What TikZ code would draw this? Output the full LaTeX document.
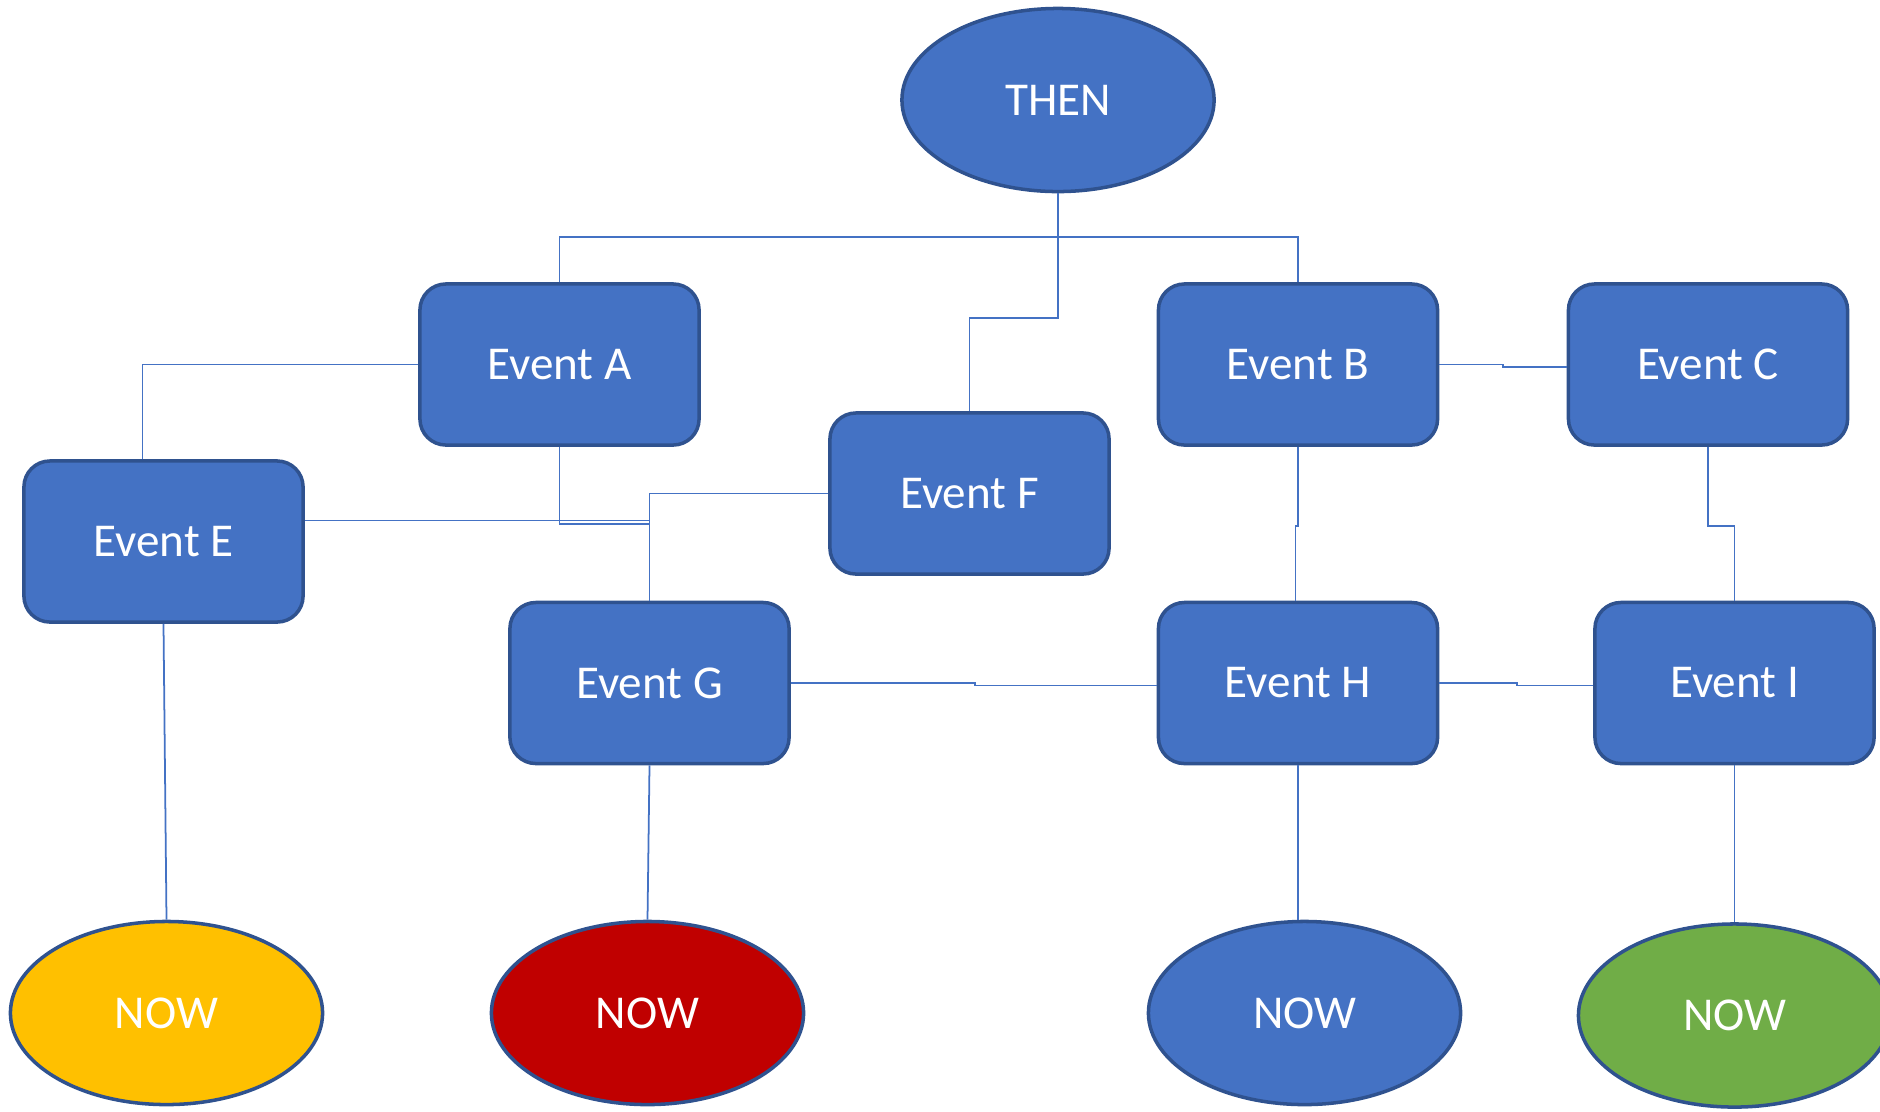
\documentclass[tikz,border=0pt]{standalone}
\usepackage{fontspec}
\setmainfont{Carlito}
\usepackage{xcolor}
\usetikzlibrary{shapes.geometric,calc}
\definecolor{cBlue}{RGB}{68,114,196}
\definecolor{cEdge}{RGB}{47,82,143}
\definecolor{cYellow}{RGB}{255,192,0}
\definecolor{cRed}{RGB}{192,0,0}
\definecolor{cGreen}{RGB}{112,173,71}

\begin{document}
\begin{tikzpicture}[x=0.01cm,y=-0.01cm,font=\fontsize{13.4}{16}\selectfont,
  event/.style={draw=cEdge,line width=1pt,fill=cBlue,text=white,rounded corners=0.26cm,
    minimum width=2.79cm,minimum height=1.61cm,inner sep=0pt},
  oval/.style={ellipse,draw=cEdge,line width=1pt,fill=#1,text=white,
    minimum width=3.12cm,minimum height=1.83cm,inner sep=0pt},
  conn/.style={cBlue,line width=0.5pt}]
\useasboundingbox (0,0) rectangle (1880,1111);
\node[oval=cBlue] (then) at (1058,100) {THEN};
\node[event] (a) at (559.5,364.5) {Event A};
\node[event] (b) at (1298,364.5) {Event B};
\node[event] (c) at (1708,364.5) {Event C};
\node[event] (e) at (163.5,541.5) {Event E};
\node[event] (f) at (969.5,493.5) {Event F};
\node[event] (g) at (649.5,683) {Event G};
\node[event] (h) at (1298,683) {Event H};
\node[event] (i) at (1734.5,683) {Event I};
\node[oval=cYellow] (nowE) at (166.5,1013) {NOW};
\node[oval=cRed] (nowG) at (647.5,1013) {NOW};
\node[oval=cBlue] (nowH) at (1304.5,1013) {NOW};
\node[oval=cGreen] (nowI) at (1734.5,1015.5) {NOW};
% upper level
\draw[conn] (then.south) -- ++(0,46);
\draw[conn] (a.north) -- ++(0,-45) -| (b.north);
\draw[conn] (then.south) |- (969.5,318) -- (f.north);
\draw[conn] (a.west) -| ($(e.north)+(-21,0)$);
\draw[conn] (b.east) -- ++(64,0) |- ($(c.west)+(0,2.5)$);
% middle level
\draw[conn] (a.south) |- ($(g.north)+(0,-77)$) -- (g.north);
\draw[conn] ($(e.east)+(0,-21)$) -| (g.north);
\draw[conn] (f.west) -| (g.north);
\draw[conn] (b.south) -- ++(0,79) -| ($(h.north)+(-2.5,0)$);
\draw[conn] (c.south) -- ++(0,79) -| (i.north);
\draw[conn] (g.east) -- ++(184,0) |- ($(h.west)+(0,2.5)$);
\draw[conn] (h.east) -- ++(78,0) |- ($(i.west)+(0,2.5)$);
% down to now
\draw[conn] (e.south) -- (nowE.north);
\draw[conn] (g.south) -- (nowG.north);
\draw[conn] (h.south) -- (h.south |- nowH.north);
\draw[conn] (i.south) -- (nowI.north);
\end{tikzpicture}
\end{document}
